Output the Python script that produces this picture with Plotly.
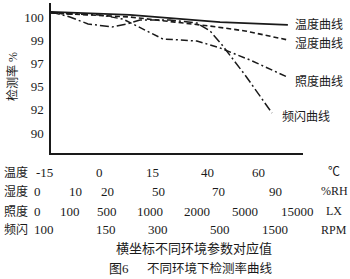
import numpy as np
import plotly.graph_objects as go

# ---- data (detection rate %) ----
# x: position along common horizontal axis (0..100 of axis length)
temp_x = [0, 31.3, 67.1, 94.0]
temp_y = [100.22, 100.09, 99.78, 99.66]

hum_x = [0, 31.3, 49.2, 63.1, 77.0, 94.0]
hum_y = [100.17, 100.0, 99.78, 99.61, 99.40, 99.01]

ill_x = [0, 19.4, 28.6, 37.3, 44.4, 51.2, 57.9, 67.1, 79.0, 93.7]
ill_y = [100.17, 100.09, 99.91, 99.44, 99.05, 99.01, 98.93, 98.33, 97.29, 95.83]

frq_x = [0, 7.5, 14.7, 24.2, 30.2, 35.3, 47.2, 57.9, 63.1, 67.9, 77.0, 87.7]
frq_y = [100.22, 100.0, 99.70, 99.57, 99.70, 99.87, 99.87, 99.74, 99.40, 98.59, 96.0, 91.72]

y_ticks = [100, 99, 97, 95, 92, 90]

row_names = ["温度", "湿度", "照度", "频闪"]
row_units = ["℃", "%RH", "LX", "RPM"]
temp_labels = ["-15", "0", "15", "40", "60"]
hum_labels = ["0", "10", "20", "50", "70", "90"]
ill_labels = ["0", "100", "500", "1000", "2000", "5000", "15000"]
frq_labels = ["100", "150", "300", "500", "1500"]

curve_names = ["温度曲线", "湿度曲线", "照度曲线", "频闪曲线"]

# ---- layout helpers (positions) ----
W, H = 350, 279
L, R, T, B = 51, 47, 3, 126
PW = W - L - R  # 252
PH = H - T - B  # 150

def px_to_paper(px):
    return (px - L) / PW

def py_to_paper(py):
    return (T + PH - py) / PH

# uneven value scale: tick levels evenly spaced
lvl_pct = np.array([88, 90, 92, 95, 97, 99, 100, 101], dtype=float)
lvl_pos = np.array([6, 5, 4, 3, 2, 1, 0, -1], dtype=float)

def to_level(v):
    return np.interp(np.asarray(v, dtype=float), lvl_pct, lvl_pos)

PX_PER_LEVEL = 23.2
LEVEL0_PY = 17
y_top = (T - LEVEL0_PY) / PX_PER_LEVEL
y_bot = (T + PH - LEVEL0_PY) / PX_PER_LEVEL

FONT = "Liberation Serif, Noto Sans CJK SC, serif"
INK = "#1a1a1a"

fig = go.Figure()
styles = [
    dict(dash="solid", width=1.8),
    dict(dash="5px,3px", width=1.6),
    dict(dash="7px,3px,2px,3px", width=1.5),
    dict(dash="9px,3px,2px,3px", width=1.5),
]
series = [(temp_x, temp_y), (hum_x, hum_y), (ill_x, ill_y), (frq_x, frq_y)]
for (xs, ys), st, nm in zip(series, styles, curve_names):
    fig.add_trace(go.Scatter(
        x=xs, y=to_level(ys), mode="lines", name=nm,
        line=dict(color=INK, width=st["width"], dash=st["dash"]),
        showlegend=False, hoverinfo="skip"))

ann = []

def add_text(px, py, text, size, anchor="center", angle=0):
    ann.append(dict(x=px_to_paper(px), y=py_to_paper(py), xref="paper", yref="paper",
                    text=text, showarrow=False, xanchor=anchor, yanchor="middle",
                    textangle=angle,
                    font=dict(size=size, family=FONT, color=INK)))

# curve labels at line ends
label_pos = [(293, 24), (293, 43), (293, 81), (280, 117)]
for nm, (px, py) in zip(curve_names, label_pos):
    add_text(px, py, nm, 12, anchor="left")

# bottom rows
row_py = [172, 191, 211, 230]
row_label_px = [
    [44, 99, 152, 207, 258],
    [37, 75, 107, 158, 218, 275],
    [37, 70, 107, 150, 197, 245, 297],
    [44, 106, 158, 220, 275],
]
all_labels = [temp_labels, hum_labels, ill_labels, frq_labels]
for name, unit, labs, pxs, py in zip(row_names, row_units, all_labels, row_label_px, row_py):
    add_text(16, py, name, 12)
    for lab, px in zip(labs, pxs):
        add_text(px, py, lab, 13)
    add_text(334, py, unit, 12)

add_text(194, 248, "横坐标不同环境参数对应值", 13)
add_text(119, 268, "图6", 13)
add_text(210, 268, "不同环境下检测率曲线", 12.5)
add_text(12, 77, "检测率 %", 12, angle=-90)

fig.update_layout(
    width=W, height=H,
    margin=dict(l=L, r=R, t=T, b=B, pad=0),
    paper_bgcolor="white", plot_bgcolor="white",
    annotations=ann,
    xaxis=dict(range=[0, 100], showgrid=False, zeroline=False,
               showline=True, linecolor=INK, linewidth=2,
               showticklabels=False, ticks=""),
    yaxis=dict(range=[y_bot, y_top], showgrid=False, zeroline=False,
               showline=True, linecolor=INK, linewidth=1.5,
               tickmode="array", tickvals=list(to_level(y_ticks)),
               ticktext=[str(v) for v in y_ticks], ticks="",
               ticklabelstandoff=3,
               tickfont=dict(size=13, family=FONT, color=INK)),
)

fig.write_html("out.html")
